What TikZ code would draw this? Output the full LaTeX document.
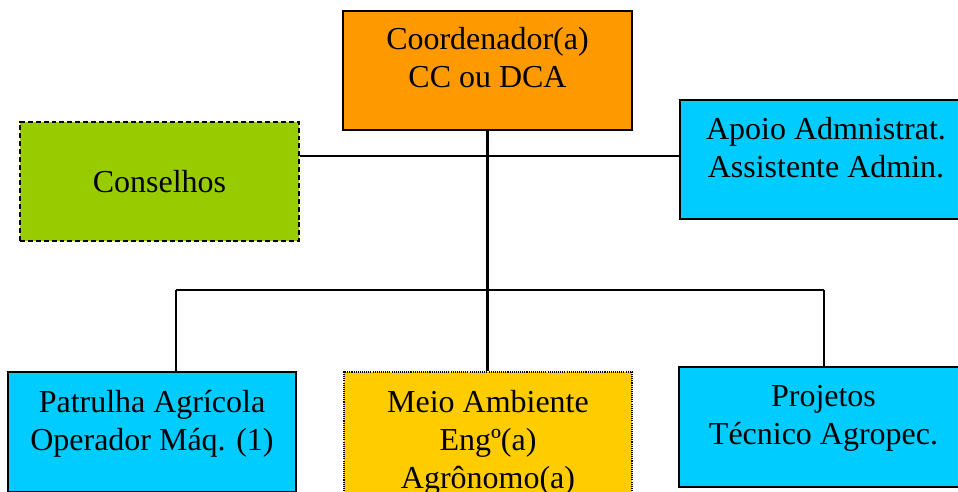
\documentclass[tikz,border=0pt]{standalone}
\usepackage{fontspec}
\setmainfont{Liberation Serif}
\newfontfamily\boxfont{Liberation Serif}
\usepackage{tikz}
\usetikzlibrary{positioning}

\definecolor{coordorange}{HTML}{FF9900}
\definecolor{conselhogreen}{HTML}{99CC00}
\definecolor{apoiocyan}{HTML}{00CCFF}
\definecolor{meioyellow}{HTML}{FFCC00}

\begin{document}
\begin{tikzpicture}[x=0.02cm, y=-0.02cm,
    box/.style={draw, line width=0.85pt, inner sep=0pt},
    txt/.style={align=center, inner sep=0pt, font=\boxfont\fontsize{18.2}{21.5}\selectfont},
    link/.style={line width=1.2pt}]
    \useasboundingbox (0,0) rectangle (958,491);

    % boxes
    \node[box, fill=coordorange, minimum width=5.78cm, minimum height=2.38cm]
      (coord) at (487.5,70.5) {};
    \node[box, fill=conselhogreen, dash pattern=on 2.8pt off 1.7pt,
          minimum width=5.58cm, minimum height=2.38cm]
      (cons) at (159.5,181.5) {};
    \node[box, fill=apoiocyan, minimum width=5.84cm, minimum height=2.38cm]
      (apoio) at (826,159.5) {};
    \node[box, fill=apoiocyan, minimum width=5.76cm, minimum height=2.4cm]
      (patr) at (152,432) {};
    \node[box, fill=meioyellow, dash pattern=on 0.6pt off 0.6pt,
          minimum width=5.76cm, minimum height=3.2cm]
      (meio) at (488,452) {};
    \node[box, fill=apoiocyan, minimum width=5.78cm, minimum height=2.4cm]
      (proj) at (823.5,427) {};

    % texts
    \node[txt, below=0.33cm of coord.north] (coordtxt) {Coordenador(a)\\CC ou DCA};
    \node[txt] (constxt) at (cons) {Conselhos};
    \node[txt, below=0.35cm of apoio.north] (apoiotxt) {Apoio Admnistrat.\\Assistente Admin.};
    \node[txt, below=0.38cm of patr.north] (patrtxt) {Patrulha Agrícola\\Operador Máq. (1)};
    \node[txt, below=0.38cm of meio.north] (meiotxt) {Meio Ambiente\\Engº(a)\\Agrônomo(a)};
    \node[txt, below=0.38cm of proj.north] (projtxt) {Projetos\\Técnico Agropec.};

    % connectors
    \coordinate (mid) at (490,156);
    \coordinate (busL) at (176,290);
    \coordinate (busR) at (824,290);
    \draw[link] (cons.east |- mid) -- (apoio.west |- mid);
    \draw[link] (coord.south) -- (coord.south |- meio.north);
    \draw[link] (busL) -- (busR);
    \draw[link] (busL) -- (busL |- patr.north);
    \draw[link] (busR) -- (busR |- proj.north);
\end{tikzpicture}
\end{document}
